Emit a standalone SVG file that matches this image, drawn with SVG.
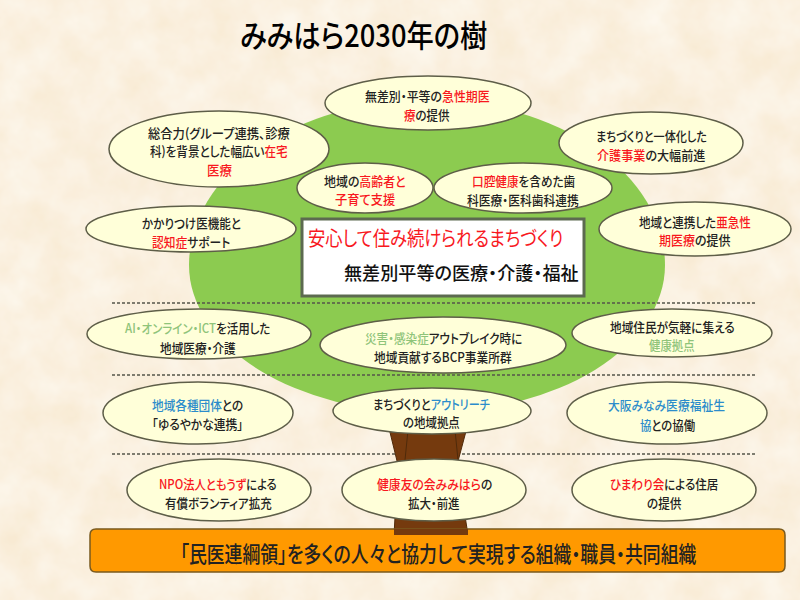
<svg xmlns="http://www.w3.org/2000/svg" width="800" height="600" viewBox="0 0 800 600">
<style>
text{font-family:"Noto Sans CJK JP","Noto Sans",sans-serif;fill:#222;font-size:13px;font-weight:500;dominant-baseline:central;font-feature-settings:"palt";lengthAdjust:spacingAndGlyphs}
.n ellipse{fill:#FFFFD9;stroke:#5E5E48;stroke-width:1.5}
.r{fill:#F8181E}.g{fill:#8FC47A}.b{fill:#2B8CCB}
.sep{stroke:#56564A;stroke-width:1.5;stroke-dasharray:3 2;fill:none}
</style>
<defs>
<filter id="paper" x="0" y="0" width="100%" height="100%">
<feTurbulence type="fractalNoise" baseFrequency="0.025" numOctaves="4" seed="7"/>
<feColorMatrix values="0 0 0 0 1  0 0 0 0 0.98  0 0 0 0 0.93  0.9 0 0 0 -0.12"/>
<feComposite in2="SourceGraphic" operator="over"/>
</filter>
</defs>
<rect id="background" width="800" height="600" fill="#F8EAD3" filter="url(#paper)"/>
<text transform="translate(240 33) scale(.88 1)" textLength="281" lengthAdjust="spacingAndGlyphs" style="font-size:31px;fill:#000">みみはら2030年の樹</text>
<path id="crown" d="M189,265 A238,165 0 0 1 665,265 A238,148 0 0 1 189,265 Z" fill="#8CCB50"/>
<g id="separators">
<path class="sep" d="M112,303H757M112,375H757M112,454H757"/>
</g>
<g id="trunk">
<path d="M387,420 L398,465 L394,535 H468 L457,465 L469,420 Z" fill="#753A0E" stroke="#4F2A0A" stroke-width="1"/>
<path d="M408,430 L405,460 M455,430 L458,460" stroke="#4F2A0A" stroke-width="1" fill="none"/>
</g>
<g id="base-band">
<path d="M96,529 H779 Q785,529 785,535 V566 Q785,572 779,572 H96 Q90,572 90,566 V535 Q90,529 96,529 Z" fill="#FF9900" stroke="#7A5A1E" stroke-width="1.5"/>
<path d="M394,529 V535 H468 V529 Z" fill="#753A0E"/>
<text transform="translate(180 553) scale(.78 1)" textLength="662" lengthAdjust="spacingAndGlyphs" style="font-size:22px">「民医連綱領」を多くの人々と協力して実現する組織・職員・共同組織</text>
</g>
<g id="node-center">
<rect x="302" y="219" width="282" height="77" fill="#fff" stroke="#5C6A50" stroke-width="3"/>
<text transform="translate(308 237) scale(.8 1)" textLength="319" lengthAdjust="spacingAndGlyphs" class="r" style="font-size:20px;font-weight:400">安心して住み続けられるまちづくり</text>
<text transform="translate(344 272) scale(.95 1)" textLength="247" lengthAdjust="spacingAndGlyphs" style="font-size:18px;fill:#111">無差別平等の医療・介護・福祉</text>
</g>
<g id="node-kyusei" class="n"><ellipse cx="428" cy="103" rx="103" ry="27"/>
<text transform="translate(365 95) scale(.86 1)" textLength="145" lengthAdjust="spacingAndGlyphs">無差別・平等の<tspan class="r">急性期医</tspan></text>
<text transform="translate(404 114) scale(.86 1)" textLength="53" lengthAdjust="spacingAndGlyphs"><tspan class="r">療</tspan>の提供</text></g>
<g id="node-zaitaku" class="n"><ellipse cx="219" cy="149" rx="110" ry="38"/>
<text transform="translate(148 132) scale(.86 1)" textLength="165" lengthAdjust="spacingAndGlyphs">総合力(グループ連携、診療</text>
<text transform="translate(150 150) scale(.86 1)" textLength="160" lengthAdjust="spacingAndGlyphs">科)を背景とした幅広い<tspan class="r">在宅</tspan></text>
<text transform="translate(207 169) scale(.86 1)" textLength="29" lengthAdjust="spacingAndGlyphs" class="r">医療</text></g>
<g id="node-kakaritsuke" class="n"><ellipse cx="191" cy="229" rx="105" ry="23"/>
<text transform="translate(142 222) scale(.86 1)" textLength="115" lengthAdjust="spacingAndGlyphs">かかりつけ医機能と</text>
<text transform="translate(152 241) scale(.86 1)" textLength="91" lengthAdjust="spacingAndGlyphs"><tspan class="r">認知症</tspan>サポート</text></g>
<g id="node-koreisha" class="n"><ellipse cx="365" cy="188" rx="68" ry="25"/>
<text transform="translate(324 180) scale(.86 1)" textLength="95" lengthAdjust="spacingAndGlyphs">地域の<tspan class="r">高齢者と</tspan></text>
<text transform="translate(335 198) scale(.86 1)" textLength="70" lengthAdjust="spacingAndGlyphs" class="r">子育て支援</text></g>
<g id="node-koku" class="n"><ellipse cx="523" cy="188" rx="89" ry="25"/>
<text transform="translate(472 180) scale(.86 1)" textLength="120" lengthAdjust="spacingAndGlyphs"><tspan class="r">口腔健康</tspan>を含めた歯</text>
<text transform="translate(467 199) scale(.86 1)" textLength="130" lengthAdjust="spacingAndGlyphs">科医療・医科歯科連携</text></g>
<g id="node-kaigo" class="n"><ellipse cx="651" cy="143" rx="92" ry="31"/>
<text transform="translate(596 135) scale(.86 1)" textLength="129" lengthAdjust="spacingAndGlyphs">まちづくりと一体化した</text>
<text transform="translate(597 154) scale(.86 1)" textLength="126" lengthAdjust="spacingAndGlyphs"><tspan class="r">介護事業</tspan>の大幅前進</text></g>
<g id="node-akyusei" class="n"><ellipse cx="695" cy="229" rx="96" ry="27"/>
<text transform="translate(639 221) scale(.86 1)" textLength="130" lengthAdjust="spacingAndGlyphs">地域と連携した<tspan class="r">亜急性</tspan></text>
<text transform="translate(659 239) scale(.86 1)" textLength="83" lengthAdjust="spacingAndGlyphs"><tspan class="r">期医療</tspan>の提供</text></g>
<g id="node-ai" class="n"><ellipse cx="199" cy="334" rx="112" ry="25"/>
<text transform="translate(125 327) scale(.86 1)" textLength="169" lengthAdjust="spacingAndGlyphs"><tspan class="g">AI・オンライン・ICT</tspan>を活用した</text>
<text transform="translate(160 347) scale(.86 1)" textLength="88" lengthAdjust="spacingAndGlyphs">地域医療・介護</text></g>
<g id="node-bcp" class="n"><ellipse cx="443" cy="345" rx="123" ry="28"/>
<text transform="translate(365 337) scale(.86 1)" textLength="183" lengthAdjust="spacingAndGlyphs"><tspan class="g">災害・感染症</tspan>アウトブレイク時に</text>
<text transform="translate(374 356) scale(.86 1)" textLength="160" lengthAdjust="spacingAndGlyphs">地域貢献するBCP事業所群</text></g>
<g id="node-kenko" class="n"><ellipse cx="672" cy="333" rx="100" ry="24"/>
<text transform="translate(610 326) scale(.86 1)" textLength="145" lengthAdjust="spacingAndGlyphs">地域住民が気軽に集える</text>
<text transform="translate(649 344) scale(.86 1)" textLength="53" lengthAdjust="spacingAndGlyphs" class="g">健康拠点</text></g>
<g id="node-dantai" class="n"><ellipse cx="198" cy="413" rx="95" ry="31"/>
<text transform="translate(152 404) scale(.86 1)" textLength="106" lengthAdjust="spacingAndGlyphs"><tspan class="b">地域各種団体</tspan>との</text>
<text transform="translate(152 423) scale(.86 1)" textLength="106" lengthAdjust="spacingAndGlyphs">「ゆるやかな連携」</text></g>
<g id="node-outreach" class="n"><ellipse cx="432" cy="411" rx="99" ry="23"/>
<text transform="translate(373 403) scale(.86 1)" textLength="136" lengthAdjust="spacingAndGlyphs">まちづくりと<tspan class="b">アウトリーチ</tspan></text>
<text transform="translate(403 421) scale(.86 1)" textLength="66" lengthAdjust="spacingAndGlyphs">の地域拠点</text></g>
<g id="node-seikyo" class="n"><ellipse cx="667" cy="413" rx="100" ry="31"/>
<text transform="translate(608 404) scale(.86 1)" textLength="136" lengthAdjust="spacingAndGlyphs" class="b">大阪みなみ医療福祉生</text>
<text transform="translate(640 424) scale(.86 1)" textLength="64" lengthAdjust="spacingAndGlyphs"><tspan class="b">協</tspan>との協働</text></g>
<g id="node-npo" class="n"><ellipse cx="219" cy="490" rx="92" ry="31"/>
<text transform="translate(159 483) scale(.86 1)" textLength="137" lengthAdjust="spacingAndGlyphs"><tspan class="r">NPO法人ともうず</tspan>による</text>
<text transform="translate(165 502) scale(.86 1)" textLength="124" lengthAdjust="spacingAndGlyphs">有償ボランティア拡充</text></g>
<g id="node-tomonokai" class="n"><ellipse cx="434" cy="490" rx="92" ry="31"/>
<text transform="translate(377 483) scale(.86 1)" textLength="134" lengthAdjust="spacingAndGlyphs"><tspan class="r">健康友の会みみはら</tspan>の</text>
<text transform="translate(408 502) scale(.86 1)" textLength="60" lengthAdjust="spacingAndGlyphs">拡大・前進</text></g>
<g id="node-himawari" class="n"><ellipse cx="664" cy="490" rx="92" ry="31"/>
<text transform="translate(610 483) scale(.86 1)" textLength="126" lengthAdjust="spacingAndGlyphs"><tspan class="r">ひまわり会</tspan>による住居</text>
<text transform="translate(647 502) scale(.86 1)" textLength="40" lengthAdjust="spacingAndGlyphs">の提供</text></g>
</svg>
